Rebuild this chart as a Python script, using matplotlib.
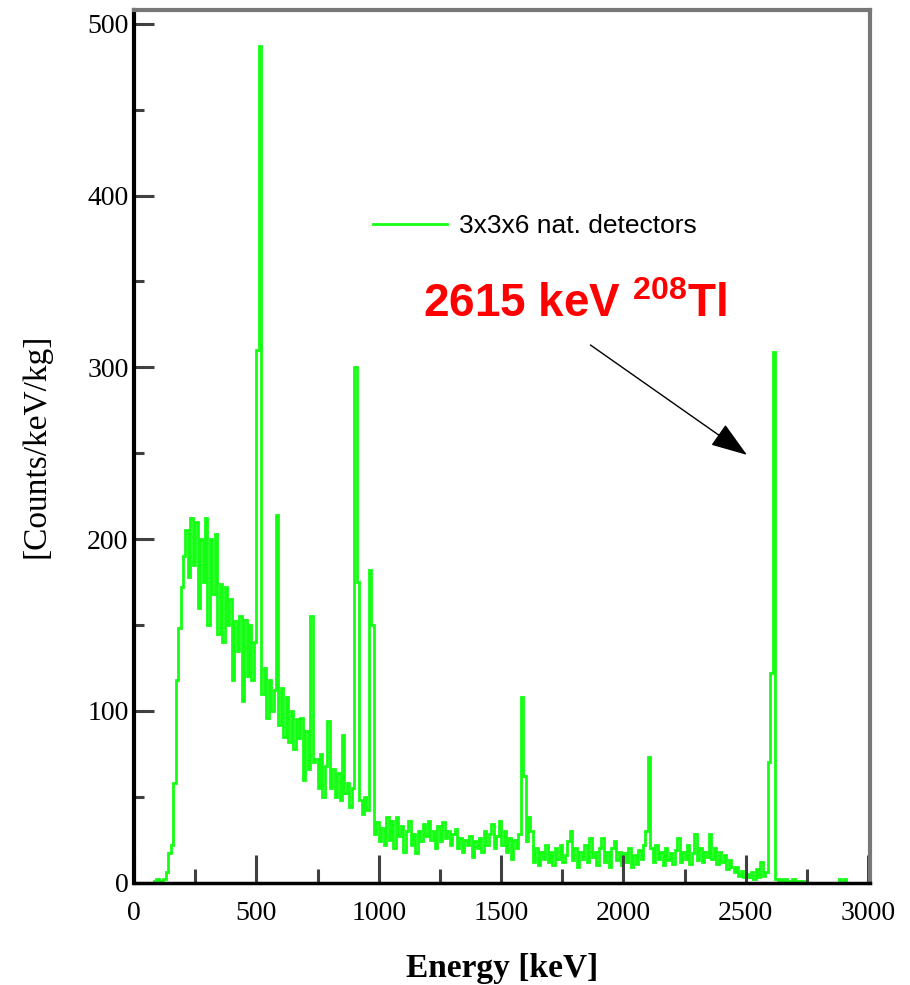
import numpy as np
import matplotlib.pyplot as plt
from matplotlib.ticker import MultipleLocator

plt.rcParams['mathtext.fontset'] = 'custom'
plt.rcParams['mathtext.rm'] = 'Liberation Sans'
plt.rcParams['mathtext.bf'] = 'Liberation Sans:bold'

# 10 keV bins, 0 - 3000 keV
bin_width = 10
counts = [
    0, 0, 0, 0, 0, 0, 0, 0, 1, 2,                          # 0
    1, 0, 2, 6, 17, 22, 58, 118, 148, 172,                 # 100
    190, 205, 178, 212, 185, 210, 160, 200, 175, 212,      # 200
    150, 200, 168, 203, 145, 174, 140, 172, 150, 165,      # 300
    118, 152, 135, 155, 106, 153, 120, 150, 118, 140,      # 400
    310, 487, 110, 125, 96, 118, 100, 112, 214, 92,        # 500
    113, 85, 108, 82, 100, 78, 95, 84, 96, 60,             # 600
    88, 66, 155, 70, 72, 55, 75, 50, 68, 94,               # 700
    55, 66, 50, 64, 48, 86, 52, 58, 44, 55,                # 800
    300, 175, 48, 40, 50, 42, 182, 150, 28, 35,            # 900
    24, 32, 22, 38, 25, 36, 20, 38, 27, 33,                # 1000
    18, 30, 36, 22, 28, 17, 30, 24, 34, 27,                # 1100
    36, 25, 30, 20, 33, 24, 35, 26, 30, 22,                # 1200
    28, 31, 20, 26, 18, 25, 22, 27, 15, 24,                # 1300
    20, 26, 18, 30, 22, 28, 34, 20, 27, 36,                # 1400
    22, 30, 18, 26, 14, 25, 20, 28, 108, 62,               # 1500
    24, 38, 30, 12, 20, 10, 18, 14, 22, 12,                # 1600
    18, 10, 20, 14, 22, 12, 16, 24, 30, 13,                # 1700
    20, 9, 18, 14, 22, 12, 26, 15, 18, 10,                 # 1800
    20, 26, 12, 18, 9, 20, 24, 13, 18, 10,                 # 1900
    17, 12, 20, 9, 16, 11, 19, 14, 22, 30,                 # 2000
    73, 20, 12, 22, 14, 18, 10, 20, 13, 17,                # 2100
    11, 19, 26, 12, 18, 14, 22, 11, 17, 28,                # 2200
    13, 20, 12, 18, 15, 28, 14, 20, 11, 18,                # 2300
    12, 16, 8, 13, 9, 6, 9, 4, 7, 3,                       # 2400
    5, 3, 6, 2, 8, 3, 12, 4, 6, 70,                        # 2500
    122, 309, 2, 1, 2, 1, 2, 1, 1, 2,                      # 2600
    1, 1, 0, 1, 0, 0, 0, 0, 0, 0,                          # 2700
    0, 0, 0, 0, 0, 0, 0, 0, 2, 0,                          # 2800
    2, 0, 0, 0, 0, 0, 0, 0, 0, 0,                          # 2900
]
edges = np.arange(0, bin_width * (len(counts) + 1), bin_width)

series_label = '3x3x6 nat. detectors'
peak_label = r'2615 keV $\mathbf{^{208}}$Tl'
arrow_tail = (1865, 313)
arrow_tip = (2505, 249)

fig = plt.figure(figsize=(9.1, 9.85), dpi=100)
ax = fig.add_axes([0.1473, 0.104, 0.8088, 0.8858])

ax.stairs(counts, edges, color='#14ff14', lw=2.0, label=series_label)

ax.set_xlim(0, 3008)
ax.set_ylim(0, 508)

ax.xaxis.set_major_locator(MultipleLocator(500))
ax.xaxis.set_minor_locator(MultipleLocator(250))
ax.yaxis.set_major_locator(MultipleLocator(100))
ax.yaxis.set_minor_locator(MultipleLocator(50))

ax.tick_params(axis='x', which='major', direction='in', length=20, width=2.2,
               color='#404040', pad=13)
ax.tick_params(axis='x', which='minor', direction='in', length=10, width=2.2,
               color='#404040')
ax.tick_params(axis='y', which='major', direction='in', length=14.4, width=2.2,
               color='#404040', pad=4)
ax.tick_params(axis='y', which='minor', direction='in', length=7.2, width=2.2,
               color='#404040')
for lab in ax.get_xticklabels() + ax.get_yticklabels():
    lab.set_fontfamily('Liberation Serif')
    lab.set_fontsize(20)

ax.spines['left'].set_linewidth(3)
ax.spines['left'].set_color('black')
ax.spines['bottom'].set_linewidth(2.5)
ax.spines['bottom'].set_color('black')
ax.spines['top'].set_linewidth(3)
ax.spines['top'].set_color('#777777')
ax.spines['right'].set_linewidth(3)
ax.spines['right'].set_color('#777777')

ax.set_xlabel('Energy [keV]', fontfamily='Liberation Serif', fontweight='bold',
              fontsize=24, labelpad=20)
ax.set_ylabel('[Counts/keV/kg]', fontfamily='Liberation Serif', fontsize=24,
              labelpad=26)

ax.legend(loc='center left', bbox_to_anchor=(0.325, 0.7524), frameon=False,
          borderpad=0, borderaxespad=0, handlelength=2.8, handletextpad=0.45,
          prop={'family': 'Liberation Sans', 'size': 19})

ax.text(1181, 329, peak_label, color='red', fontsize=33, fontweight='bold',
        fontfamily='Liberation Sans')
ax.annotate('', xy=arrow_tip, xytext=arrow_tail,
            arrowprops=dict(arrowstyle='-|>,head_length=1.15,head_width=0.4',
                            mutation_scale=20, color='black', lw=1,
                            shrinkA=0, shrinkB=0))

fig.savefig('out.png', dpi=100)
